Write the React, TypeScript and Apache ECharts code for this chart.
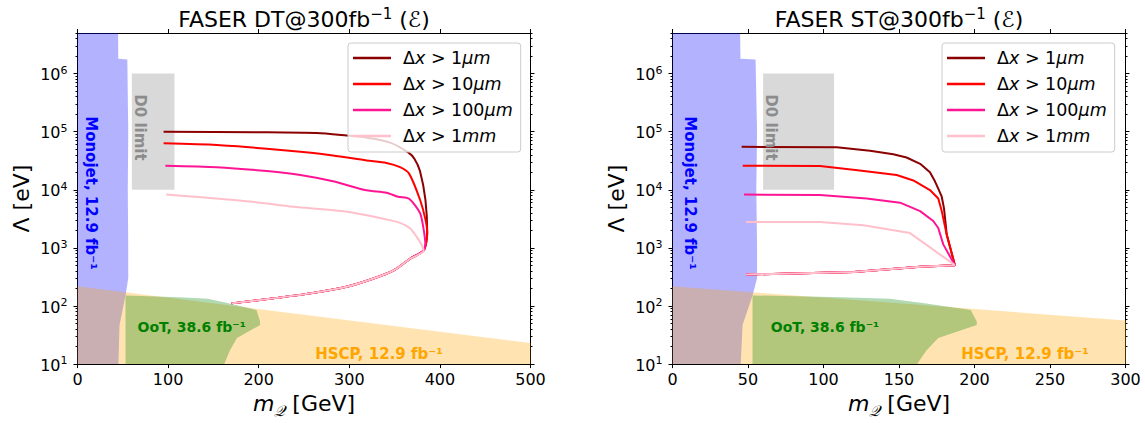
import React, { useEffect, useRef } from 'react';
import * as echarts from 'echarts';

const FONT = 'DejaVu Sans';

// ---------- data ----------
const curveNames = ['1μm', '10μm', '100μm', '1mm'];
const curveColors = ['#8b0000', '#ff0000', '#ff1493', '#ffc0cb'];

const yMajorTicks = [1e1, 1e2, 1e3, 1e4, 1e5, 1e6];
const yMin = 10;
const yMax = 5e6;

// FASER DT panel (m_Q [GeV], Lambda [eV])
const dtLower = [[382, 900], [367, 650], [349, 410], [326, 295], [297, 215], [257, 165], [220, 138], [170, 111]];
const dt1um = [[95, 1.0e5], [200, 9.8e4], [264, 9.5e4], [297, 8.6e4], [320, 7.9e4], [345, 6.5e4], [365, 4.4e4], [372, 3.4e4], [378, 2.1e4], [384, 6.8e3], [386, 1.8e3]];
const dt10um = [[95, 6.3e4], [154, 5.9e4], [209, 5.1e4], [246, 4.5e4], [282, 3.9e4], [319, 3.2e4], [341, 2.9e4], [356, 2.45e4], [366, 1.9e4], [378, 6.8e3], [384, 3.1e3], [386, 1.8e3]];
const dt100um = [[97, 2.6e4], [154, 2.45e4], [209, 2.1e4], [246, 1.8e4], [282, 1.4e4], [319, 9.8e3], [341, 8.9e3], [354, 7.6e3], [366, 7.0e3], [378, 4.0e3], [382, 2.1e3], [384, 1.1e3]];
const dt1mm = [[98, 8.3e3], [190, 6.3e3], [238, 5.1e3], [292, 4.3e3], [341, 3.1e3], [356, 2.7e3], [368, 2.1e3]];

// FASER ST panel
const stLower = [[187, 505], [164, 475], [120, 385], [48.7, 348]];
const st1um = [[45.8, 5.5e4], [108.7, 5.4e4], [130.8, 4.7e4], [146.2, 4.1e4], [155, 3.6e4], [164, 2.8e4], [170.5, 2.0e4], [173.8, 1.4e4], [176, 1.05e4], [178.3, 7.6e3], [179.8, 4.8e3], [180.7, 2.9e3], [181.6, 1.7e3]];
const st10um = [[46.5, 2.6e4], [97.7, 2.57e4], [124, 2.15e4], [148.5, 1.8e4], [159.5, 1.45e4], [170.5, 9.9e3], [176, 7.1e3], [178.3, 4.3e3], [181.6, 1.7e3]];
const st100um = [[47.4, 8.3e3], [97.7, 8.1e3], [128.6, 7.1e3], [150.7, 6.0e3], [164, 4.3e3], [172.7, 2.9e3], [176, 2.2e3], [179.3, 1.15e3]];
const st1mm = [[48.7, 2.8e3], [97.7, 2.8e3], [126.4, 2.45e3], [157.3, 1.8e3]];

// excluded regions
const monojetRegion = [[0, 10], [0, 5e6], [44.8, 5e6], [45, 1.8e6], [55, 1.75e6], [56, 1e5], [55.5, 1e4], [56, 1e3], [56, 300], [53, 152], [46.4, 47], [45.2, 10]];
const hscpRegion = [[0, 10], [0, 218], [500, 23], [500, 10]];
const ootRegion = [[53, 10], [53, 152], [112, 142], [144, 133], [168, 110], [192, 90], [197.5, 85], [201.5, 54], [201.5, 47], [176, 28], [168, 17], [162, 10]];
const d0Region = [[60, 1e4], [60, 1e6], [107, 1e6], [107, 1e4]];

// ---------- helpers ----------
const yMinorTicks: number[] = [];
for (let e = 1; e <= 6; e++) {
  for (let k = 2; k <= 9; k++) {
    const v = k * Math.pow(10, e);
    if (v <= yMax) yMinorTicks.push(v);
  }
}

const grids = [
  { left: 77.5, top: 33, width: 453, height: 337 },
  { left: 672.5, top: 33, width: 453, height: 337 },
];

function xAxis(gridIndex: number, max: number, interval: number, position: string, main: boolean) {
  return {
    type: 'value', gridIndex, min: 0, max, interval, position,
    axisLine: { show: true, onZero: false, lineStyle: { color: '#000', width: 1 } },
    axisTick: { show: true, inside: false, length: 4, lineStyle: { color: '#000', width: 1 } },
    axisLabel: { show: main, color: '#000', fontSize: 16, margin: 7, fontFamily: FONT },
    splitLine: { show: false },
    name: main ? '{i|m}{q|𝒬}{n| [GeV]}' : '',
    nameLocation: 'middle',
    nameGap: 24,
    nameTextStyle: {
      rich: {
        i: { fontSize: 22, fontStyle: 'italic', fontFamily: FONT, color: '#000', lineHeight: 26, verticalAlign: 'top' },
        q: { fontSize: 15, fontStyle: 'italic', fontFamily: FONT, color: '#000', lineHeight: 16, verticalAlign: 'bottom' },
        n: { fontSize: 22, fontFamily: FONT, color: '#000', lineHeight: 26, verticalAlign: 'top' },
      },
    },
  };
}

function yAxis(gridIndex: number, position: string, major: boolean, main: boolean) {
  return {
    type: 'log', logBase: 10, gridIndex, min: yMin, max: yMax, position,
    axisLine: { show: major, onZero: false, lineStyle: { color: '#000', width: 1 } },
    axisTick: {
      show: true, inside: false, length: major ? 4 : 2,
      customValues: major ? yMajorTicks : yMinorTicks,
      lineStyle: { color: '#000', width: 1 },
    },
    minorTick: { show: false },
    axisLabel: {
      show: main,
      customValues: yMajorTicks,
      margin: 10,
      formatter: (v: number) => `{b|10}{s|${Math.round(Math.log10(v))}}`,
      rich: {
        b: { fontSize: 16, fontFamily: FONT, color: '#000', lineHeight: 18, verticalAlign: 'bottom' },
        s: { fontSize: 11, fontFamily: FONT, color: '#000', lineHeight: 12, verticalAlign: 'top', padding: [0, 0, 7, 0] },
      },
    },
    splitLine: { show: false },
    name: main ? 'Λ [eV]' : '',
    nameLocation: 'middle',
    nameGap: 45,
    nameRotate: 90,
    nameTextStyle: { fontSize: 22, fontFamily: FONT, color: '#000' },
  };
}

function polySeries(pts: number[][], color: string, xi: number, yi: number, z: number) {
  return {
    type: 'custom', xAxisIndex: xi, yAxisIndex: yi, clip: true, silent: true, z,
    data: [pts[0]],
    renderItem: (_p: any, api: any) => ({
      type: 'polygon',
      shape: { points: pts.map((p) => api.coord(p)) },
      style: { fill: color },
    }),
  };
}

function curveSeries(name: string, color: string, pts: number[][], xi: number, yi: number, smooth: number | boolean) {
  return {
    type: 'line', name, xAxisIndex: xi, yAxisIndex: yi, data: pts,
    showSymbol: false, symbol: 'none', smooth, clip: true, z: 3,
    lineStyle: { color, width: 2 }, itemStyle: { color },
  };
}

function legendLabel(name: string) {
  const m = name.match(/^(\d+)(.*)$/);
  const num = m ? m[1] : name;
  const unit = m ? m[2] : '';
  return `{d|Δ}{i|x}{n| > ${num}}{i|${unit}}`;
}

function regionLabel(text: string, x: number, y: number, color: string, size: number, rot: number) {
  return {
    type: 'text', x, y, rotation: rot, z: 100, silent: true,
    style: {
      text, fill: color, fontSize: size, fontWeight: 'bold', fontFamily: FONT,
      align: 'center', verticalAlign: 'middle',
    },
  };
}

function titleText(label: string, x: number) {
  return {
    type: 'text', x, y: 18, z: 100, silent: true,
    style: {
      text: `{t|FASER ${label}@300fb}{s|−1}{t| (ℰ)}`,
      align: 'center', verticalAlign: 'middle',
      rich: {
        t: { fontSize: 22, fontFamily: FONT, fill: '#000', lineHeight: 24, verticalAlign: 'bottom' },
        s: { fontSize: 15, fontFamily: FONT, fill: '#000', lineHeight: 16, verticalAlign: 'top', padding: [0, 0, 10, 0] },
      },
    },
  };
}

function buildOption() {
  const dtCurves = [dt1um, dt10um, dt100um, dt1mm].map((c) => c.concat(dtLower));
  const stCurves = [st1um, st10um, st100um, st1mm].map((c) => c.concat(stLower));

  const series: any[] = [];
  [[0, 0], [2, 4]].forEach(([xi, yi]) => {
    series.push(polySeries(d0Region, 'rgba(128,128,128,0.3)', xi, yi, 1));
    series.push(polySeries(monojetRegion, 'rgba(0,0,255,0.3)', xi, yi, 1));
    series.push(polySeries(hscpRegion, 'rgba(255,165,0,0.3)', xi, yi, 1));
    series.push(polySeries(ootRegion, 'rgba(0,128,0,0.3)', xi, yi, 1));
  });
  curveNames.forEach((n, i) => series.push(curveSeries(n, curveColors[i], dtCurves[i], 0, 0, 0.25)));
  curveNames.forEach((n, i) => series.push(curveSeries(n, curveColors[i], stCurves[i], 2, 4, false)));

  const legendRich = {
    d: { fontSize: 17.5, fontFamily: FONT, color: '#000', lineHeight: 20, padding: [0, 0, 0, 7] },
    i: { fontSize: 17.5, fontFamily: FONT, color: '#000', lineHeight: 20, fontStyle: 'italic' },
    n: { fontSize: 17.5, fontFamily: FONT, color: '#000', lineHeight: 20 },
  };

  return {
    animation: false,
    textStyle: { fontFamily: FONT },
    grid: grids,
    xAxis: [
      xAxis(0, 500, 100, 'bottom', true),
      xAxis(0, 500, 100, 'top', false),
      xAxis(1, 300, 50, 'bottom', true),
      xAxis(1, 300, 50, 'top', false),
    ],
    yAxis: [
      yAxis(0, 'left', true, true),
      yAxis(0, 'left', false, false),
      yAxis(0, 'right', true, false),
      yAxis(0, 'right', false, false),
      yAxis(1, 'left', true, true),
      yAxis(1, 'left', false, false),
      yAxis(1, 'right', true, false),
      yAxis(1, 'right', false, false),
    ],
    legend: [348, 942].map((left) => ({
      left, top: 43, orient: 'vertical', data: curveNames, icon: 'rect',
      itemWidth: 38, itemHeight: 2.5, itemGap: 6, padding: [5, 8, 6, 5],
      backgroundColor: 'rgba(255,255,255,0.8)', borderColor: '#cccccc', borderWidth: 1, borderRadius: 3,
      selectedMode: false,
      formatter: legendLabel,
      textStyle: { fontSize: 17.5, lineHeight: 20, rich: legendRich },
    })),
    graphic: [
      titleText('DT', 304),
      titleText('ST', 899),
      regionLabel('Monojet, 12.9 fb⁻¹', 91, 193, '#0000ff', 15, -Math.PI / 2),
      regionLabel('D0 limit', 140, 127.5, '#8c8c8c', 15, -Math.PI / 2),
      regionLabel('OoT, 38.6 fb⁻¹', 191.7, 327, '#008000', 14, 0),
      regionLabel('HSCP, 12.9 fb⁻¹', 379, 354, '#ffa500', 15, 0),
      regionLabel('Monojet, 12.9 fb⁻¹', 690, 193, '#0000ff', 15, -Math.PI / 2),
      regionLabel('D0 limit', 771, 127.5, '#8c8c8c', 15, -Math.PI / 2),
      regionLabel('OoT, 38.6 fb⁻¹', 825, 327, '#008000', 14, 0),
      regionLabel('HSCP, 12.9 fb⁻¹', 1025, 354, '#ffa500', 15, 0),
    ],
    series,
  };
}

export default function App() {
  const ref = useRef<HTMLDivElement>(null);
  useEffect(() => {
    document.body.style.margin = '0';
    const chart = echarts.init(ref.current!, null, { renderer: 'svg' });
    chart.setOption(buildOption() as any);
    return () => chart.dispose();
  }, []);
  return <div ref={ref} style={{ width: 1145, height: 423 }} />;
}
